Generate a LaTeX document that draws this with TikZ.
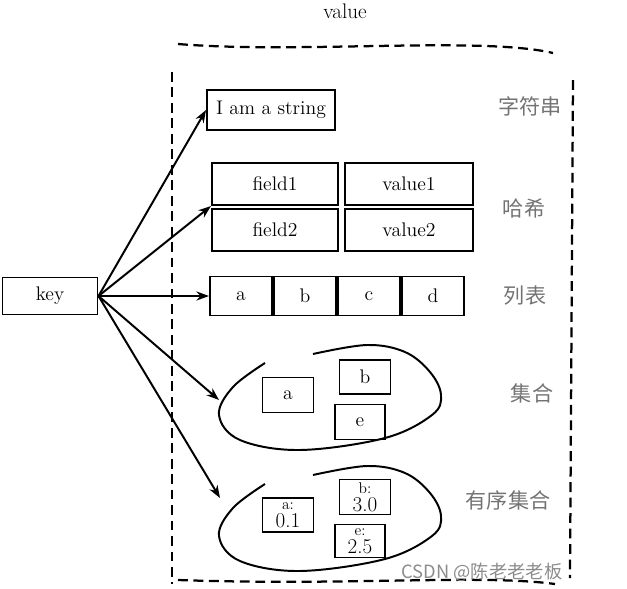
\documentclass[tikz,border=0pt]{standalone}
\usepackage{fontspec}
\newfontfamily\cjk{Noto Sans CJK SC}
\usepackage{tikz}
\usetikzlibrary{positioning,arrows.meta}

\begin{document}
\begin{tikzpicture}[x=0.025cm, y=-0.025cm, box/.style={draw, line width=1.4pt, inner sep=0pt, font=\fontsize{14}{16}\selectfont}, pair/.style={draw, line width=1.4pt, inner sep=0pt, align=center, font=\fontsize{15}{13}\selectfont}, tag/.style={text=black!55, font=\cjk\fontsize{15}{18}\selectfont}, link/.style={-{Stealth[length=9pt,width=6.5pt]}, line width=1.4pt}, border/.style={line width=1.6pt, dash pattern=on 7pt off 4pt}, blob/.style={line width=1.4pt}]
\useasboundingbox (0,0) rectangle (627,588);
\node[font=\fontsize{15}{17}\selectfont] (title) at (345,11) {value};
% dashed value frame
\draw[border] (172,72) -- (172,584);
\draw[border] (178,44) .. controls (300,54) and (480,36) .. (553,53);
\draw[border] (573,80) -- (570,578);
\draw[border] (178,580) .. controls (350,586) and (480,574) .. (555,584);
\node[box, minimum width=2.375cm, minimum height=0.925cm] (key) at (50,296) {key};
\node[box, minimum width=3.2cm, minimum height=1cm] (str) at (271,110) {I am a string};
\node[box, minimum width=3.15cm, minimum height=1.05cm] (field1) at (275,184) {field1};
\node[box, minimum width=3.2cm, minimum height=1.05cm, right=0.125cm of field1] (value1) {value1};
\node[box, minimum width=3.15cm, minimum height=1.05cm, below=0.05cm of field1] (field2) {field2};
\node[box, minimum width=3.2cm, minimum height=1.05cm, right=0.125cm of field2] (value2) {value2};
\node[box, minimum width=1.55cm, minimum height=0.975cm] (la) at (241,296) {a};
\node[box, minimum width=1.55cm, minimum height=0.975cm, right=0cm of la] (lb) {b};
\node[box, minimum width=1.55cm, minimum height=0.975cm, right=0cm of lb] (lc) {c};
\node[box, minimum width=1.55cm, minimum height=0.975cm, right=0cm of lc] (ld) {d};
% set
\draw[blob] plot[smooth, tension=0.6] coordinates {(265,363) (233,387) (219,415) (240,440) (300,450) (385,438) (432,415) (441,395) (430,372) (405,352) (367,345) (313,354)};
\node[box, minimum width=1.275cm, minimum height=0.875cm] (sa) at (288,395) {a};
\node[box, minimum width=1.275cm, minimum height=0.85cm] (sb) at (365,377) {b};
\node[box, minimum width=1.25cm, minimum height=0.875cm] (se) at (360,422) {e};
% sorted set
\draw[blob] plot[smooth, tension=0.6] coordinates {(265,484) (233,508) (219,536) (240,561) (300,571) (385,559) (432,536) (441,516) (430,493) (405,473) (367,466) (313,475)};
\node[pair, minimum width=1.275cm, minimum height=0.85cm] (za) at (288,515) {{\fontsize{11}{11}\selectfont a:}\\0.1};
\node[pair, minimum width=1.275cm, minimum height=0.875cm] (zb) at (365,497) {{\fontsize{11}{11}\selectfont b:}\\3.0};
\node[pair, minimum width=1.25cm, minimum height=0.825cm] (ze) at (360,541) {{\fontsize{11}{11}\selectfont e:}\\2.5};
\node[tag] (tstr) at (530,106) {字符串};
\node[tag] (thash) at (524,208) {哈希};
\node[tag] (tlist) at (525,296) {列表};
\node[tag] (tset) at (532,393) {集合};
\node[tag] (tzset) at (508,500) {有序集合};
\coordinate (setin) at (219,400);
\coordinate (zsetin) at (220,498);
\draw[link] (key.east) -- (str.west);
\draw[link] (key.east) -- (field1.south west);
\draw[link] (key.east) -- (la.west);
\draw[link] (key.east) -- (setin);
\draw[link] (key.east) -- (zsetin);
\node[text=black!45, font=\cjk\fontsize{13}{15}\selectfont] (mark) at (482,572) {CSDN @陈老老老板};
\end{tikzpicture}
\end{document}
